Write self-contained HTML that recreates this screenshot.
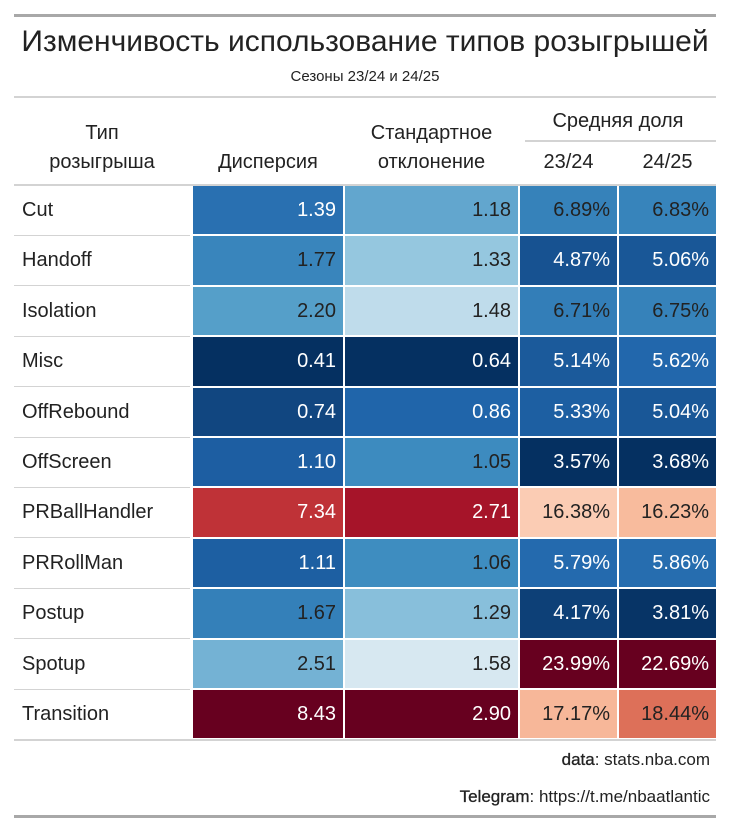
<!DOCTYPE html>
<html><head><meta charset="utf-8">
<style>
body{margin:0;background:#fff;width:730px;height:831px;position:relative;overflow:hidden;font-family:"Liberation Sans",sans-serif;color:#222}
.a{position:absolute}
.hl{position:absolute;height:2px;background:#d3d3d3}
.h{position:absolute;font-size:20px;text-align:center;line-height:29px;color:#222}
.cell{position:absolute;font-size:20px;text-align:right;box-sizing:border-box;padding-right:7px}
.lab{position:absolute;font-size:20px;left:22px}
</style></head><body>
<div class="a" style="left:14px;top:14px;width:702px;height:3px;background:#a8a8a8"></div>
<div class="a" style="left:14px;top:24px;width:702px;text-align:center;font-size:30px;line-height:36px;color:#222">Изменчивость использование типов розыгрышей</div>
<div class="a" style="left:14px;top:67px;width:702px;text-align:center;font-size:15px;line-height:20px;color:#222">Сезоны 23/24 и 24/25</div>
<div class="hl" style="left:14px;top:96px;width:702px"></div>
<div class="h" style="left:14px;top:119px;width:176px">Тип<br>розыгрыша</div>
<div class="h" style="left:193px;top:148px;width:150px">Дисперсия</div>
<div class="h" style="left:345px;top:119px;width:173px">Стандартное<br>отклонение</div>
<div class="h" style="left:520px;top:107px;width:196px">Средняя доля</div>
<div class="hl" style="left:525px;top:140px;width:191px"></div>
<div class="h" style="left:520px;top:148px;width:97px">23/24</div>
<div class="h" style="left:619px;top:148px;width:97px">24/25</div>
<div class="hl" style="left:14px;top:184px;width:702px"></div>
<div id="tbl"></div>
<div class="hl" style="left:14px;top:739px;width:702px"></div>
<div class="a" style="right:20px;top:749px;font-size:17px;line-height:22px;color:#222"><span style="-webkit-text-stroke:0.3px #222">data</span>: stats.nba.com</div>
<div class="a" style="right:20px;top:786px;font-size:17px;line-height:22px;color:#222"><span style="-webkit-text-stroke:0.3px #222">Telegram</span>: https://t.me/nbaatlantic</div>
<div class="a" style="left:14px;top:815px;width:702px;height:3px;background:#a8a8a8"></div>
<script>
const playTypes=["Cut","Handoff","Isolation","Misc","OffRebound","OffScreen","PRBallHandler","PRRollMan","Postup","Spotup","Transition"];
const variance=[1.39,1.77,2.20,0.41,0.74,1.10,7.34,1.11,1.67,2.51,8.43];
const stdDev=[1.18,1.33,1.48,0.64,0.86,1.05,2.71,1.06,1.29,1.58,2.90];
const share2324=[6.89,4.87,6.71,5.14,5.33,3.57,16.38,5.79,4.17,23.99,17.17];
const share2425=[6.83,5.06,6.75,5.62,5.04,3.68,16.23,5.86,3.81,22.69,18.44];
const stops=["#053061","#2166ac","#4393c3","#92c5de","#d1e5f0","#f7f7f7","#fddbc7","#f4a582","#d6604d","#b2182b","#67001f"];
function hex(h){return [1,3,5].map(i=>parseInt(h.substr(i,2),16));}
function scale(v,arr){const mn=Math.min(...arr),mx=Math.max(...arr);let t=(v-mn)/(mx-mn)*10;let i=Math.min(9,Math.floor(t));let f=t-i;const a=hex(stops[i]),b=hex(stops[i+1]);return a.map((x,k)=>Math.round(x+(b[k]-x)*f));}
function lum(c){const l=c.map(x=>{x/=255;return x<=0.03928?x/12.92:Math.pow((x+0.055)/1.055,2.4)});return .2126*l[0]+.7152*l[1]+.0722*l[2];}
const cols=[{d:variance,x:193,w:150,n:"variance",fmt:v=>v.toFixed(2)},{d:stdDev,x:345,w:173,n:"std",fmt:v=>v.toFixed(2)},{d:share2324,x:520,w:97,n:"share-2324",fmt:v=>v.toFixed(2)+"%"},{d:share2425,x:619,w:97,n:"share-2425",fmt:v=>v.toFixed(2)+"%"}];
const tbl=document.getElementById('tbl');
const top0=186,rh=50.4;
playTypes.forEach((p,r)=>{
  const y=top0+r*rh;
  const lab=document.createElement('div');lab.className='lab';
  
  
  lab.style.top=y+'px';lab.style.lineHeight=(rh-2)+'px';lab.textContent=p;tbl.appendChild(lab);
  if(r>0){const l=document.createElement('div');l.className='hl';
  
  
  l.style.cssText='left:14px;width:176px;height:1px;top:'+(y-1.5)+'px';tbl.appendChild(l);}
  cols.forEach(c=>{
    const v=c.d[r];const col=scale(v,c.d);const L=lum(col);
    const e=document.createElement('div');e.className='cell';
    
    
    e.style.left=c.x+'px';e.style.width=c.w+'px';e.style.top=y+'px';e.style.height=(rh-2)+'px';e.style.lineHeight=(rh-2)+'px';
    e.style.background='rgb('+col.join(',')+')';
    e.style.color=(1.05/(L+.05)>(L+.05)/.05)?'#fff':'#222';
    e.textContent=c.fmt(v);tbl.appendChild(e);
  });
});
</script>
</body></html>
